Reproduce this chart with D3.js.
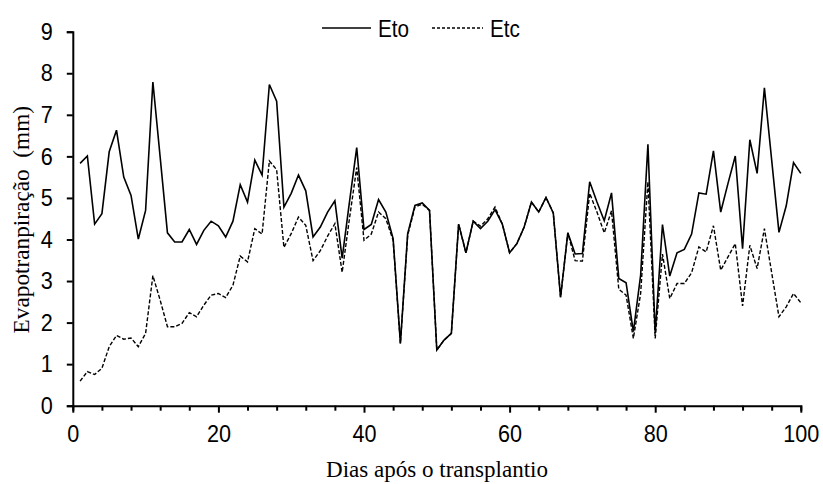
<!DOCTYPE html>
<html>
<head>
<meta charset="utf-8">
<script src="https://cdn.jsdelivr.net/npm/d3@7"></script>
<style>
  body { margin: 0; background: #fff; }
  svg { display: block; }
</style>
</head>
<body>
<svg id="chart" width="823" height="484"></svg>
<script>
const days = d3.range(1, 101);
const eto = [5.83,6.01,4.37,4.62,6.11,6.63,5.50,5.06,4.01,4.70,
  7.79,5.98,4.16,3.94,3.94,4.24,3.88,4.22,4.44,4.33,
  4.06,4.44,5.32,4.90,5.91,5.55,7.73,7.33,4.78,5.11,
  5.55,5.17,4.06,4.30,4.66,4.93,3.55,4.90,6.21,4.24,
  4.36,4.96,4.66,4.02,1.50,4.14,4.82,4.88,4.70,1.34,
  1.58,1.74,4.37,3.68,4.44,4.26,4.44,4.72,4.37,3.68,
  3.90,4.30,4.90,4.66,5.01,4.64,2.61,4.16,3.65,3.66,
  5.39,4.90,4.45,5.12,3.06,2.96,1.78,3.14,6.29,1.75,
  4.36,3.12,3.68,3.76,4.13,5.12,5.09,6.13,4.66,5.35,
  6.01,3.78,6.40,5.59,7.65,5.91,4.17,4.81,5.85,5.59];
const etc = [0.59,0.82,0.75,0.90,1.42,1.69,1.60,1.63,1.42,1.74,
  3.13,2.54,1.90,1.90,1.98,2.24,2.14,2.42,2.66,2.70,
  2.60,2.90,3.60,3.46,4.26,4.13,5.89,5.68,3.81,4.14,
  4.54,4.34,3.49,3.73,4.08,4.38,3.21,4.50,5.73,3.98,
  4.13,4.66,4.50,3.98,1.50,4.10,4.78,4.85,4.70,1.34,
  1.58,1.74,4.37,3.68,4.44,4.32,4.50,4.78,4.37,3.68,
  3.90,4.30,4.90,4.66,5.01,4.64,2.61,4.16,3.49,3.48,
  5.11,4.66,4.16,4.69,2.80,2.66,1.62,2.70,5.39,1.62,
  3.65,2.58,2.94,2.94,3.20,3.82,3.70,4.33,3.26,3.58,
  3.90,2.40,3.86,3.30,4.26,3.20,2.14,2.38,2.70,2.48];
const xTicks = d3.range(0, 101, 4);
const xLabels = [0, 20, 40, 60, 80, 100];
const yTicks = d3.range(0, 10, 1);
const seriesNames = ["Eto", "Etc"];

const svg = d3.select("#chart");
const x = d3.scaleLinear().domain([0, 100]).range([72.8, 800.8]);
const y = d3.scaleLinear().domain([0, 9]).range([405.7, 31.7]);

const sans = "'Liberation Sans', Arial, sans-serif";
const serif = "'Liberation Serif', 'Times New Roman', serif";
const sx = 0.9;

// X axis
const xAxis = d3.axisBottom(x)
  .tickValues(xTicks)
  .tickSizeOuter(0)
  .tickSize(5)
  .tickPadding(14)
  .tickFormat(d => xLabels.includes(d) ? d : "");
const gx = svg.append("g").attr("transform", `translate(0,${y(0)})`).call(xAxis);
gx.select(".domain").attr("stroke", "#000").attr("stroke-width", 2);
gx.selectAll(".tick line").attr("stroke", "#000").attr("stroke-width", 2)
  .attr("y2", d => xLabels.includes(d) ? 7 : 5);
gx.selectAll(".tick text").attr("font-family", sans).attr("font-size", 24).attr("fill", "#000")
  .attr("transform", `scale(${sx},1)`);

// Y axis
const yAxis = d3.axisLeft(y)
  .tickValues(yTicks)
  .tickSizeOuter(0)
  .tickSize(6)
  .tickPadding(14)
  .tickFormat(d3.format("d"));
const gy = svg.append("g").attr("transform", `translate(${x(0)},0)`).call(yAxis);
gy.select(".domain").attr("stroke", "#000").attr("stroke-width", 2);
gy.selectAll(".tick line").attr("stroke", "#000").attr("stroke-width", 2);
gy.selectAll(".tick text").attr("font-family", sans).attr("font-size", 24).attr("fill", "#000")
  .attr("x", -20 / sx)
  .attr("transform", `scale(${sx},1)`);

// Lines
const line = d3.line().x((d, i) => x(days[i])).y(d => y(d));
svg.append("path").datum(etc).attr("d", line)
  .attr("fill", "none").attr("stroke", "#000").attr("stroke-width", 1.4)
  .attr("stroke-dasharray", "4,2");
svg.append("path").datum(eto).attr("d", line)
  .attr("fill", "none").attr("stroke", "#000").attr("stroke-width", 1.6);

// Legend
const leg = svg.append("g");
leg.append("line").attr("x1", 322).attr("x2", 371).attr("y1", 28).attr("y2", 28)
  .attr("stroke", "#000").attr("stroke-width", 1.4);
leg.append("text").attr("transform", `translate(378,37) scale(${sx},1)`).text(seriesNames[0])
  .attr("font-family", sans).attr("font-size", 23);
leg.append("line").attr("x1", 432).attr("x2", 483).attr("y1", 28).attr("y2", 28)
  .attr("stroke", "#000").attr("stroke-width", 1.4).attr("stroke-dasharray", "3,2");
leg.append("text").attr("transform", `translate(490,37) scale(${sx},1)`).text(seriesNames[1])
  .attr("font-family", sans).attr("font-size", 23);

// Axis titles
svg.append("text")
  .attr("transform", `translate(29,${(y(0) + y(9)) / 2 + 1}) rotate(-90) scale(0.97,1)`)
  .attr("text-anchor", "middle")
  .attr("font-family", serif).attr("font-size", 24)
  .attr("xml:space", "preserve")
  .text("Evapotranpiração  (mm)");
svg.append("text")
  .attr("transform", `translate(437,477) scale(0.96,1)`)
  .attr("text-anchor", "middle")
  .attr("font-family", serif).attr("font-size", 24)
  .text("Dias após o transplantio");
</script>
</body>
</html>
